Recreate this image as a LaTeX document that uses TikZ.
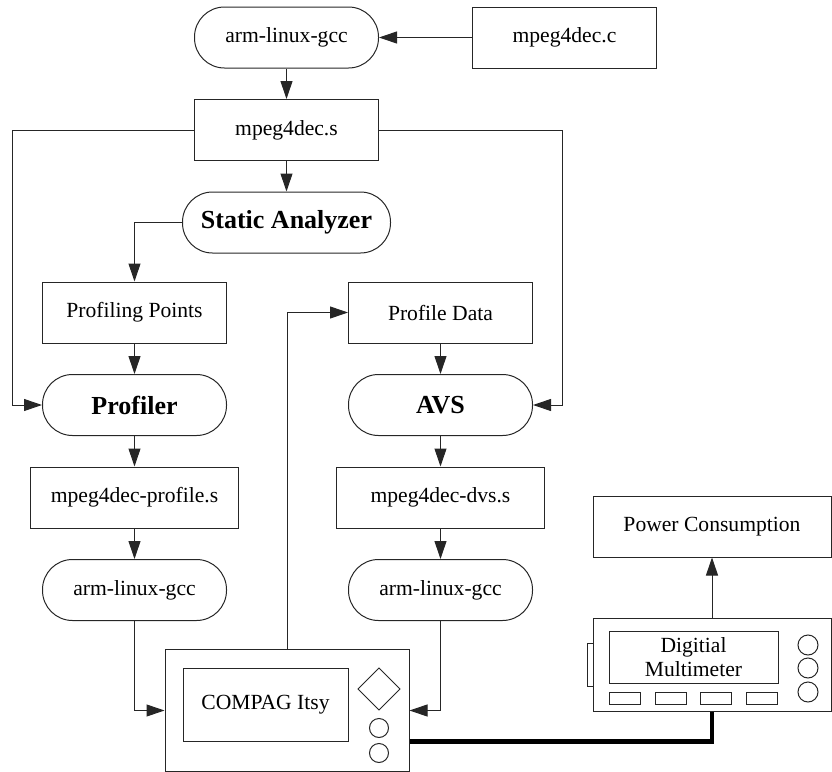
\documentclass[tikz,border=0pt]{standalone}
\usepackage{fontspec}
\setmainfont{Liberation Serif}
\usetikzlibrary{arrows.meta, positioning, calc}

\begin{document}
\begin{tikzpicture}[
    font=\fontsize{10.8}{13}\selectfont,
    node distance=15.25pt and 46.5pt,
    box/.style={
        draw=black!85,
        line width=0.5pt,
        align=center,
        minimum width=92pt,
        minimum height=30.5pt,
        inner sep=0pt
    },
    widebox/.style={
        box,
        minimum width=104pt
    },
    tool/.style={
        box,
        rounded corners=15pt
    },
    boldtool/.style={
        tool,
        font=\fontsize{13}{15}\selectfont\bfseries
    },
    device/.style={draw=black!85, line width=0.5pt, inner sep=0pt},
    line/.style={draw=black!85, line width=0.5pt, -{Triangle[length=9pt,width=6pt]}},
    cable/.style={draw=black, line width=2.4pt}
]

\useasboundingbox (0,0) rectangle (416pt,-386pt);

% compile and analyse
\node[tool] (gcc) at (143.25pt,-18.75pt) {arm-linux-gcc};
\node[box, right=of gcc] (src) {mpeg4dec.c};
\node[box, below=of gcc] (asm) {mpeg4dec.s};
\node[boldtool, minimum width=104pt, below=of asm] (sa) {Static Analyzer};

% two columns
\node[box] (pp) at (67.25pt,-156.25pt) {Profiling Points};
\node[boldtool, below=of pp] (prof) {Profiler};
\node[widebox, below=of prof] (profs) {mpeg4dec-profile.s};
\node[tool, below=of profs] (gccp) {arm-linux-gcc};

\node[box] (pd) at (220.25pt,-156.25pt) {Profile Data};
\node[boldtool, below=of pd] (avs) {AVS};
\node[widebox, below=of avs] (dvss) {mpeg4dec-dvs.s};
\node[tool, below=of dvss] (gccd) {arm-linux-gcc};

\node[box, minimum width=119pt] (power) at (356pt,-263.25pt) {Power Consumption};

% handheld
\node[device, minimum width=122pt, minimum height=61pt] (itsy) at (143.5pt,-355.25pt) {};
\node[device, minimum width=82.5pt, minimum height=36.5pt] (itsyscreen) at (132.75pt,-352.25pt) {COMPAG Itsy};
\draw[black!85, line width=0.5pt] (189.5pt,-334pt) -- (200pt,-344.5pt) -- (189.5pt,-355pt) -- (179pt,-344.5pt) -- cycle;
\foreach \cy in {-364,-376.5}
    \draw[black!85, line width=0.5pt] (189.5pt,\cy pt) circle (4.75pt);

% multimeter
\node[device, minimum width=119pt, minimum height=46.5pt] (meter) at (356pt,-332.25pt) {};
\node[device, minimum width=84.5pt, minimum height=26pt, align=center, font=\fontsize{10.8}{12}\selectfont] (meterscreen) at (346.75pt,-328.5pt) {Digitial\\Multimeter};
\draw[black!85, line width=0.5pt] (296.5pt,-321.5pt) -- (293.5pt,-321.5pt) -- (293.5pt,-343pt) -- (296.5pt,-343pt);
\foreach \bx in {304.5,327.5,350,373}
    \draw[black!85, line width=0.5pt] (\bx pt,-346pt) rectangle ++(15.5pt,-6pt);
\foreach \cy in {-322.5,-334,-346}
    \draw[black!85, line width=0.5pt] (404pt,\cy pt) circle (5pt);

\coordinate (lbus) at (6pt,0 |- asm.west);
\coordinate (rbus) at (281pt,0 |- asm.east);
\coordinate (jack) at ($(itsy.south east)+(0,15.25pt)$);

\draw[line] (src) -- (gcc);
\draw[line] (gcc) -- (asm);
\draw[line] (asm) -- (sa);
\draw[line] (asm.west) -- (lbus) |- (prof.west);
\draw[line] (asm.east) -- (rbus) |- (avs.east);
\draw[line] (sa.west) -| (pp.north);
\draw[line] (pp) -- (prof);
\draw[line] (prof) -- (profs);
\draw[line] (profs) -- (gccp);
\draw[line] (pd) -- (avs);
\draw[line] (avs) -- (dvss);
\draw[line] (dvss) -- (gccd);
\draw[line] (gccp.south) |- (itsy.west);
\draw[line] (gccd.south) |- (itsy.east);
\draw[line] (itsy.north) |- (pd.west);
\draw[line] (meter.north) -- (power.south);
\draw[cable] (jack) -| (meter.south);

\end{tikzpicture}
\end{document}
